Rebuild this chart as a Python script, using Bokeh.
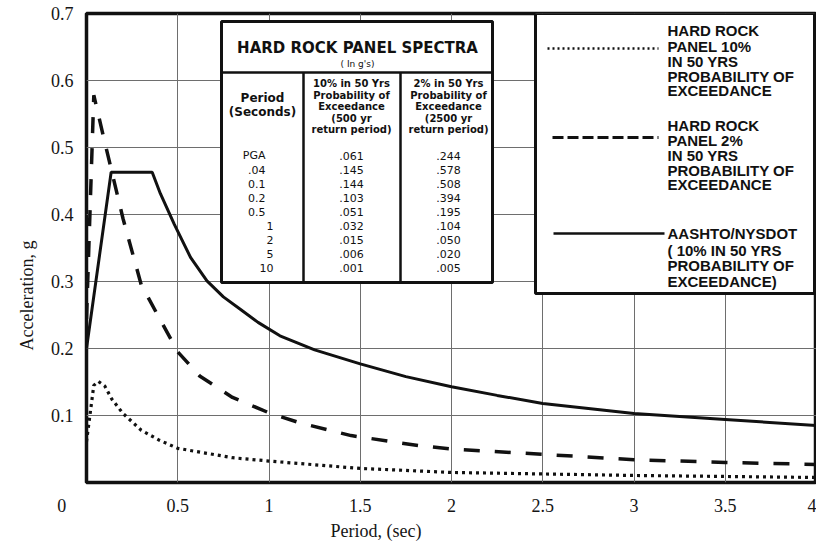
from bokeh.plotting import figure
from bokeh.models import Range1d, FixedTicker, Title
from bokeh.core.properties import value
from bokeh.embed import file_html
from bokeh.resources import INLINE

# ---- table of hard rock panel spectra (in g's) ----
period_labels = ["PGA", ".04", "0.1", "0.2", "0.5", "1", "2", "5", "10"]
hr10_table = [0.061, 0.145, 0.144, 0.103, 0.051, 0.032, 0.015, 0.006, 0.001]
hr2_table = [0.244, 0.578, 0.508, 0.394, 0.195, 0.104, 0.050, 0.020, 0.005]

# ---- plotted spectra: period (s) vs acceleration (g) ----
hr10_period = [0.0, 0.04, 0.065, 0.1, 0.14, 0.2, 0.3, 0.4, 0.5, 0.8, 1.0, 1.5, 2.0, 3.0, 4.0]
hr10_accel = [0.061, 0.145, 0.151, 0.144, 0.124, 0.103, 0.078, 0.063, 0.051, 0.037, 0.032,
              0.021, 0.015, 0.0105, 0.0075]

hr2_period = [0.0, 0.04, 0.1, 0.2, 0.3, 0.5, 0.62, 0.8, 1.0, 1.17, 1.45, 1.82, 2.0, 2.5,
              3.0, 3.5, 4.0]
hr2_accel = [0.244, 0.578, 0.508, 0.394, 0.295, 0.195, 0.159, 0.127, 0.104, 0.089, 0.070,
             0.055, 0.050, 0.042, 0.034, 0.030, 0.027]

aashto_period = [0.0, 0.135, 0.36, 0.405, 0.48, 0.57, 0.66, 0.75, 0.85, 0.94, 1.06, 1.25,
                 1.5, 1.75, 2.0, 2.25, 2.5, 3.0, 3.5, 4.0]
aashto_accel = [0.20, 0.463, 0.463, 0.431, 0.386, 0.336, 0.301, 0.277, 0.257, 0.239, 0.219,
                0.198, 0.177, 0.158, 0.143, 0.130, 0.118, 0.103, 0.094, 0.085]

# ---- axes ----
x_ticks = [0, 0.5, 1, 1.5, 2, 2.5, 3, 3.5, 4]
x_tick_text = ["0", "0.5", "1", "1.5", "2", "2.5", "3", "3.5", "4"]
y_ticks = [0.1, 0.2, 0.3, 0.4, 0.5, 0.6, 0.7]
y_tick_text = ["0.1", "0.2", "0.3", "0.4", "0.5", "0.6", "0.7"]

W, H = 816, 542
FRAME_L, FRAME_R, FRAME_T, FRAME_B = 86, 816, 13, 482
X_END, Y_END = 4.0, 0.7


def dx(px):
    """canvas pixel column -> period axis value"""
    return (px - FRAME_L) * X_END / (FRAME_R - FRAME_L)


def dy(py):
    """canvas pixel row -> acceleration axis value"""
    return (FRAME_B - py) * Y_END / (FRAME_B - FRAME_T)


p = figure(width=W, height=H, output_backend="svg", toolbar_location=None,
           x_range=Range1d(0, X_END), y_range=Range1d(0, Y_END),
           min_border_left=FRAME_L, min_border_right=W - FRAME_R,
           min_border_top=FRAME_T, min_border_bottom=H - FRAME_B)
p.background_fill_color = "white"
p.border_fill_color = "white"
p.outline_line_color = "#111111"
p.outline_line_width = 3.5

SERIF = "Liberation Serif"
INK = "#151515"
for ax, ticks, txt in ((p.xaxis[0], x_ticks, x_tick_text), (p.yaxis[0], y_ticks, y_tick_text)):
    ax.ticker = FixedTicker(ticks=ticks)
    ax.major_label_overrides = {t: s for t, s in zip(ticks, txt)}
    ax.axis_line_color = None
    ax.major_tick_line_color = None
    ax.minor_tick_line_color = None
    ax.major_tick_in = 0
    ax.major_tick_out = 0
    ax.major_label_text_font = SERIF
    ax.major_label_text_font_size = "18px"
    ax.major_label_text_color = INK
# the shared origin "0" sits left of the corner: pad it with no-break spaces
p.xaxis[0].major_label_overrides[0] = "0" + "\u00a0" * 11
p.xaxis.major_label_standoff = 13
p.yaxis.major_label_standoff = 13

p.xgrid.ticker = FixedTicker(ticks=x_ticks[1:-1])
p.ygrid.ticker = FixedTicker(ticks=y_ticks[:-1])
for g in (p.xgrid[0], p.ygrid[0]):
    g.grid_line_color = "#6e6e6e"
    g.grid_line_width = 1

# ---- axis titles ----
p.add_layout(Title(text="Acceleration, g", align="left", offset=132, standoff=22,
                   text_font=SERIF, text_font_size="18px", text_font_style="normal",
                   text_color=INK), "left")
p.add_layout(Title(text="Period, (sec)", align="left", offset=244, standoff=0,
                   text_font=SERIF, text_font_size="18px", text_font_style="normal",
                   text_color=INK), "below")

# ---- spectra curves ----
p.line(hr10_period, hr10_accel, line_color="#111111", line_width=3.2, line_dash="3 4")
p.line(hr2_period, hr2_accel, line_color="#111111", line_width=3.5, line_dash="16 15")
p.line(aashto_period, aashto_accel, line_color="#111111", line_width=3)

# ---- spectra table ----
TL, TR, TT, TB = 221, 492, 21, 282
p.quad(left=[dx(TL)], right=[dx(TR)], top=[dy(TT)], bottom=[dy(TB)],
       fill_color="white", line_color="#111111", line_width=3)
p.segment(x0=[dx(TL), dx(303), dx(400)], y0=[dy(72), dy(72), dy(72)],
          x1=[dx(TR), dx(303), dx(400)], y1=[dy(72), dy(TB), dy(TB)],
          line_color="#111111", line_width=2.5)

SANS = value("DejaVu Sans")


def put(xs, ys, texts, size, bold=False, align="center", font=SANS, color="#111111"):
    p.text(x=xs, y=ys, text=texts, text_font=font, text_font_size=size,
           text_font_style="bold" if bold else "normal", text_align=align,
           text_baseline="middle", text_color=color)


put([dx(357)], [dy(47)], ["HARD ROCK PANEL SPECTRA"], "15px", bold=True)
put([dx(357)], [dy(63)], ["( In g's)"], "9px")
put([dx(262)] * 2, [dy(97), dy(111)], ["Period", "(Seconds)"], "12px", bold=True)
head_rows = [83, 94.5, 106, 117.5, 129]
put([dx(351)] * 5, [dy(r) for r in head_rows],
    ["10% in 50 Yrs", "Probability of", "Exceedance", "(500 yr", "return period)"],
    "10px", bold=True)
put([dx(448)] * 5, [dy(r) for r in head_rows],
    ["2% in 50 Yrs", "Probability of", "Exceedance", "(2500 yr", "return period)"],
    "10px", bold=True)

row_y = [dy(155 + 14.1 * i) for i in range(len(period_labels))]
lab_x = [dx(265) if ("." in s or s.isalpha()) else dx(273) for s in period_labels]
put(lab_x, row_y, period_labels, "11px", align="right")
put([dx(351)] * len(hr10_table), row_y, [f"{v:.3f}".lstrip("0") for v in hr10_table], "11px")
put([dx(448)] * len(hr2_table), row_y, [f"{v:.3f}".lstrip("0") for v in hr2_table], "11px")

# ---- legend box ----
LL, LR, LT, LB = 535, 814, 13, 293
p.quad(left=[dx(LL)], right=[dx(LR)], top=[dy(LT)], bottom=[dy(LB)],
       fill_color="white", line_color="#111111", line_width=3)
p.line([dx(547), dx(658)], [dy(48), dy(48)], line_color="#111111", line_width=2.5,
       line_dash="2 3")
p.line([dx(552), dx(658)], [dy(137), dy(137)], line_color="#111111", line_width=3,
       line_dash="11 4")
p.line([dx(553), dx(664)], [dy(233), dy(233)], line_color="#111111", line_width=2.5)

ARIAL = value("Liberation Sans")
legend_groups = [
    ([30, 46, 61, 76, 90], ["HARD ROCK", "PANEL 10%", "IN 50 YRS", "PROBABILITY OF", "EXCEEDANCE"]),
    ([125, 140, 155, 170, 184], ["HARD ROCK", "PANEL 2%", "IN 50 YRS", "PROBABILITY OF", "EXCEEDANCE"]),
    ([233, 250, 265, 281], ["AASHTO/NYSDOT", "( 10% IN 50 YRS", "PROBABILITY OF", "EXCEEDANCE)"]),
]
for rows, lines in legend_groups:
    put([dx(667)] * len(lines), [dy(r) for r in rows], lines, "15px", bold=True,
        align="left", font=ARIAL)

open("out.html", "w").write(file_html(p, INLINE))
